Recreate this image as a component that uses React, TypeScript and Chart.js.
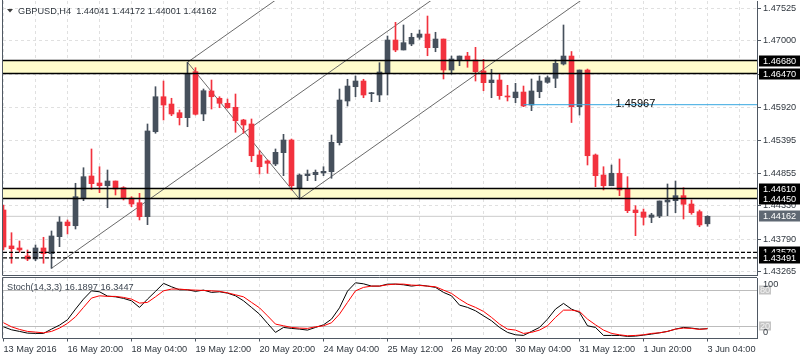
import React, { useEffect, useRef } from "react";
import { Chart, registerables } from "chart.js";

Chart.register(...registerables);

// ---------- data ----------
const symbol = "GBPUSD";
const timeframe = "H4";

const opens = [
  1.44264, 1.43683, 1.4365, 1.43521, 1.43472, 1.4365, 1.43558, 1.43833, 1.4407, 1.4401,
  1.44453, 1.44814, 1.44701, 1.44657, 1.44733, 1.44625, 1.44458, 1.44382, 1.44156, 1.4553,
  1.46096, 1.45978, 1.45838, 1.45757, 1.46501, 1.45817, 1.46189, 1.46071, 1.4599, 1.45925,
  1.4572, 1.45655, 1.45154, 1.45057, 1.45008, 1.45191, 1.45396, 1.44615, 1.44819, 1.44835,
  1.44863, 1.44884, 1.45353, 1.46027, 1.46258, 1.4635, 1.46145, 1.46124, 1.46475, 1.47013,
  1.46852, 1.46949, 1.47057, 1.4711, 1.46889, 1.47029, 1.46528, 1.4669, 1.46754, 1.4669,
  1.46512, 1.46323, 1.46366, 1.46108, 1.4608, 1.46172, 1.45962, 1.46177, 1.46329, 1.46394,
  1.46625, 1.46754, 1.45935, 1.46528, 1.45154, 1.4483, 1.44657, 1.44858, 1.44604, 1.44264,
  1.44232, 1.44146, 1.44167, 1.44394, 1.44415, 1.44496, 1.44361, 1.44237, 1.44041,
];
const highs = [
  1.44345, 1.43897, 1.43763, 1.43618, 1.43699, 1.43823, 1.43925, 1.44156, 1.44103, 1.44696,
  1.44948, 1.45251, 1.44964, 1.44911, 1.44733, 1.44641, 1.44479, 1.44534, 1.45655, 1.46258,
  1.4635, 1.46071, 1.45881, 1.46653, 1.46565, 1.46221, 1.46366, 1.46096, 1.46059, 1.4614,
  1.45731, 1.45736, 1.45223, 1.45073, 1.45251, 1.45488, 1.45412, 1.44846, 1.44911, 1.44911,
  1.44964, 1.45477, 1.46221, 1.46378, 1.46431, 1.46378, 1.46167, 1.46646, 1.47078, 1.47299,
  1.47256, 1.47122, 1.47175, 1.47401, 1.47138, 1.47029, 1.46754, 1.46754, 1.46814, 1.46895,
  1.46701, 1.46539, 1.46459, 1.46281, 1.46313, 1.46269, 1.46383, 1.46431, 1.46431, 1.4669,
  1.47256, 1.46827, 1.46528, 1.46544, 1.4517, 1.44964, 1.44992, 1.45089, 1.44803, 1.44334,
  1.4428, 1.44211, 1.4441, 1.44685, 1.44733, 1.44625, 1.44426, 1.44264, 1.44172,
];
const lows = [
  1.43618, 1.43403, 1.43581, 1.43445, 1.43445, 1.43403, 1.43321, 1.43671, 1.43876, 1.43957,
  1.44415, 1.44599, 1.44544, 1.44301, 1.44507, 1.44426, 1.44318, 1.44103, 1.44027, 1.45505,
  1.4572, 1.45789, 1.45639, 1.45611, 1.458, 1.45708, 1.45897, 1.45918, 1.45909, 1.45521,
  1.45505, 1.45045, 1.44846, 1.44858, 1.44981, 1.44819, 1.44588, 1.44442, 1.44738, 1.44738,
  1.44819, 1.44777, 1.45315, 1.45946, 1.46096, 1.4608, 1.46016, 1.46016, 1.46124, 1.46824,
  1.46852, 1.46921, 1.47025, 1.46759, 1.46824, 1.46383, 1.46459, 1.46598, 1.46572, 1.4635,
  1.46193, 1.4608, 1.46054, 1.46027, 1.46, 1.45935, 1.4587, 1.4608, 1.46313, 1.46242,
  1.46609, 1.45679, 1.458, 1.44992, 1.44641, 1.44588, 1.44657, 1.44496, 1.44221, 1.43849,
  1.44022, 1.44059, 1.4414, 1.44172, 1.44221, 1.44119, 1.44195, 1.43994, 1.44001,
];
const closes = [
  1.43666, 1.43639, 1.43618, 1.43472, 1.4365, 1.43558, 1.43844, 1.4407, 1.4401, 1.44479,
  1.44803, 1.4469, 1.44657, 1.44733, 1.44604, 1.44447, 1.44361, 1.44156, 1.45542, 1.46096,
  1.45962, 1.45817, 1.45757, 1.46475, 1.45812, 1.46193, 1.46096, 1.4599, 1.45918, 1.45708,
  1.45639, 1.45142, 1.44964, 1.45019, 1.45197, 1.45396, 1.44657, 1.4483, 1.44846, 1.44874,
  1.4489, 1.45359, 1.46043, 1.46269, 1.4635, 1.46124, 1.46161, 1.46496, 1.47013, 1.46852,
  1.4697, 1.47057, 1.4711, 1.46889, 1.47029, 1.46528, 1.46706, 1.46754, 1.46678, 1.46501,
  1.46323, 1.46366, 1.46113, 1.46092, 1.46172, 1.45946, 1.46189, 1.4635, 1.46404, 1.46636,
  1.46754, 1.45935, 1.46528, 1.45142, 1.44819, 1.44657, 1.44858, 1.44588, 1.44253, 1.44221,
  1.44146, 1.44184, 1.4441, 1.44426, 1.44496, 1.44357, 1.44221, 1.44022, 1.44162,
];

const stochK = [
  19.3, 14.4, 11.7, 8.9, 8.4, 8.4, 15.5, 22.1, 31.0, 48.6,
  65.1, 78.8, 77.2, 70.1, 68.9, 66.3, 62.3, 51.4, 65.1, 77.9,
  91.1, 85.5, 80.5, 80.5, 77.9, 80.0, 76.2, 77.2, 75.0, 70.6,
  62.3, 51.4, 40.3, 25.0, 10.1, 18.3, 16.7, 15.5, 13.9, 18.3,
  22.6, 32.0, 50.7, 78.3, 92.1, 90.4, 86.6, 86.6, 89.9, 89.9,
  88.8, 86.6, 88.3, 86.6, 84.5, 76.2, 70.6, 55.2, 51.4, 45.8,
  37.5, 29.3, 18.3, 10.1, 6.1, 5.1, 11.7, 18.3, 32.0, 48.6,
  58.0, 48.6, 43.1, 21.0, 18.3, 5.1, 5.1, 5.1, 3.5, 4.0,
  5.6, 7.3, 9.4, 11.7, 15.5, 18.3, 17.2, 15.5, 16.1897,
];
const stochD = [
  26.0, 19.3, 15.0, 11.7, 10.6, 9.4, 11.7, 17.2, 25.0, 35.9,
  51.4, 66.8, 70.6, 69.6, 69.6, 67.9, 65.1, 58.5, 59.7, 68.9,
  78.8, 81.7, 81.7, 80.5, 80.0, 79.4, 78.8, 77.9, 75.5, 72.2,
  68.9, 59.7, 50.7, 37.5, 23.8, 21.0, 18.3, 17.2, 16.7, 19.3,
  21.0, 26.0, 40.3, 59.7, 78.8, 84.5, 86.6, 86.6, 88.8, 89.9,
  89.9, 88.3, 87.7, 86.6, 85.5, 80.0, 74.5, 65.1, 56.9, 51.4,
  44.8, 34.9, 23.8, 15.5, 13.9, 8.4, 10.1, 13.9, 21.0, 34.9,
  46.9, 46.9, 44.8, 32.0, 22.6, 13.9, 8.4, 6.1, 4.5, 5.1,
  6.1, 8.4, 9.4, 11.7, 15.5, 17.2, 16.7, 15.0, 16.3447,
];

const dateLabels = [
  "13 May 2016", "16 May 20:00", "18 May 04:00", "19 May 12:00", "20 May 20:00", "24 May 04:00",
  "25 May 12:00", "26 May 20:00", "30 May 04:00", "31 May 12:00", "1 Jun 20:00", "3 Jun 04:00",
];
const gridBars = [0, 4, 8, 12, 16, 20, 24, 28, 32, 36, 40, 44, 48, 52, 56, 60, 64, 68, 72, 76, 80, 84, 88, 92];
const priceTicks = [1.47525, 1.47, 1.4646, 1.4592, 1.45395, 1.44855, 1.4433, 1.4379, 1.43265];

const zoneTops = [1.4668, 1.4461];
const zoneBottoms = [1.4647, 1.4445];
const dashedLevels = [1.43579, 1.43491];
const blueLevel = 1.45967;
const blueFromBar = 65;
const noteBar = 76.5;

// channel / trend lines as [bar, price] pairs
const channelLines = [
  [[6, 1.43321], [54, 1.47703]],
  [[23, 1.46653], [35, 1.47749]],
  [[37, 1.44442], [73, 1.47729]],
  [[23, 1.46653], [37, 1.44442]],
];

const stochLevels = [20, 80];
const stochName = "Stoch(14,3,3)";

const priceMin = 1.43213;
const priceMax = 1.47644;
const barMin = -0.0625;
const barMax = 94.1875;

// ---------- styles ----------
const FONT = "'Liberation Sans', Arial, sans-serif";
const BULL = "#46505c";
const BEAR = "#f2323e";
const ZONE = "#fffccc";
const GRID = "#e0e0e0";
const FRAME = "#4f5863";
const TEXT = "#30373f";
const BLUE = "#35a7e0";
const LEVEL = "#bcbcbc";
const BID = "#cbcbcb";
const CHANNEL = "#6a6a6a";

export default function App() {
  const topRef = useRef<HTMLCanvasElement>(null);
  const botRef = useRef<HTMLCanvasElement>(null);

  useEffect(() => {
    const n = opens.length;
    const last = n - 1;
    const idx = opens.map((_, i) => i);
    const candleColors = idx.map((i) => (closes[i] >= opens[i] ? BULL : BEAR));
    const hline = (y: number, from = barMin, to = barMax) => [
      { x: from, y },
      { x: to, y },
    ];
    const font = { family: FONT, size: 9.2 };

    const mainOverlay = {
      id: "mainOverlay",
      afterDraw(chart: any) {
        const { ctx, chartArea } = chart;
        const ys = chart.scales.y;
        const xs = chart.scales.x;
        ctx.save();
        // frame
        ctx.strokeStyle = FRAME;
        ctx.lineWidth = 1;
        ctx.beginPath();
        ctx.moveTo(chartArea.left - 0.5, 0);
        ctx.lineTo(chartArea.left - 0.5, chartArea.bottom + 0.5);
        ctx.lineTo(chartArea.right, chartArea.bottom + 0.5);
        ctx.stroke();
        // title
        ctx.fillStyle = "#3a3a3a";
        ctx.beginPath();
        ctx.moveTo(7, 9);
        ctx.lineTo(13, 9);
        ctx.lineTo(10, 12.5);
        ctx.closePath();
        ctx.fill();
        ctx.font = `9.2px ${FONT}`;
        ctx.fillStyle = TEXT;
        ctx.textAlign = "left";
        ctx.textBaseline = "middle";
        const title = `${symbol},${timeframe}  ${opens[last].toFixed(5)} ${highs[last].toFixed(5)} ${lows[last].toFixed(5)} ${closes[last].toFixed(5)}`;
        ctx.fillText(title, 18, 11);
        // note text on blue level
        ctx.font = `11px ${FONT}`;
        ctx.fillStyle = "#000";
        ctx.textBaseline = "alphabetic";
        ctx.fillText(blueLevel.toFixed(5), xs.getPixelForValue(noteBar), ys.getPixelForValue(blueLevel) + 2);
        // right tags
        const tags: [number, string][] = [
          [zoneTops[0], "#000"],
          [zoneBottoms[0], "#000"],
          [zoneTops[1], "#000"],
          [zoneBottoms[1], "#000"],
          [closes[last], "#5f6873"],
          [dashedLevels[0], "#000"],
          [dashedLevels[1], "#000"],
        ];
        ctx.font = `9.2px ${FONT}`;
        ctx.textBaseline = "middle";
        tags.forEach(([v, bg]) => {
          const py = Math.round(ys.getPixelForValue(v));
          ctx.fillStyle = bg;
          ctx.fillRect(chartArea.right + 2, py - 5.5, 41, 11);
          ctx.fillStyle = "#fff";
          ctx.fillText(v.toFixed(5), chartArea.right + 6, py + 0.5);
        });
        ctx.restore();
      },
    };

    const lineDs = (data: any[], color: string, width: number, order: number, dash: number[] = []) => ({
      type: "line",
      data,
      borderColor: color,
      borderWidth: width,
      borderDash: dash,
      pointRadius: 0,
      fill: false,
      order,
      clip: 0,
    });

    const main = new Chart(topRef.current as HTMLCanvasElement, {
      type: "bar",
      data: {
        datasets: [
          ...zoneTops.map((t, k) => ({
            type: "line",
            data: hline(t),
            borderColor: "transparent",
            borderWidth: 1,
            pointRadius: 0,
            fill: { value: zoneBottoms[k] },
            backgroundColor: ZONE,
            order: 20,
            clip: 0,
          })),
          lineDs(hline(closes[last]), BID, 1, 19),
          ...channelLines.map((seg) => lineDs(seg.map(([x, y]) => ({ x, y })), CHANNEL, 1, 18)),
          {
            type: "bar",
            data: idx.map((i) => ({ x: i, y: [lows[i], highs[i]] })),
            backgroundColor: candleColors,
            barThickness: 1,
            grouped: false,
            minBarLength: 1,
            order: 6,
            clip: 0,
          },
          {
            type: "bar",
            data: idx.map((i) => ({ x: i, y: [opens[i], closes[i]] })),
            backgroundColor: candleColors,
            barThickness: 5,
            grouped: false,
            minBarLength: 1,
            order: 5,
            clip: 0,
          },
          ...[...zoneTops, ...zoneBottoms].map((v) => lineDs(hline(v), "#000", 1.5, 2)),
          ...dashedLevels.map((v) => lineDs(hline(v), "#000", 1.3, 2, [4, 2])),
          lineDs(hline(blueLevel, blueFromBar), BLUE, 1, 2),
        ] as any,
      },
      options: {
        responsive: false,
        animation: false,
        devicePixelRatio: 1,
        events: [],
        layout: { padding: { left: 3, top: 1, right: 0, bottom: 1 }, autoPadding: false },
        plugins: { legend: { display: false }, tooltip: { enabled: false } },
        scales: {
          x: {
            type: "linear",
            min: barMin,
            max: barMax,
            offset: false,
            afterBuildTicks: (s: any) => {
              s.ticks = gridBars.map((v) => ({ value: v }));
            },
            afterFit: (s: any) => {
              s.height = 0;
              s.paddingLeft = 0;
              s.paddingRight = 0;
            },
            ticks: { display: false },
            grid: { color: GRID, drawTicks: false, offset: false },
            border: { display: false, dash: [3, 3] },
          },
          y: {
            type: "linear",
            position: "right",
            min: priceMin,
            max: priceMax,
            afterBuildTicks: (s: any) => {
              s.ticks = priceTicks.map((v) => ({ value: v }));
            },
            afterFit: (s: any) => {
              s.width = 43;
              s.paddingTop = 0;
              s.paddingBottom = 0;
            },
            ticks: {
              autoSkip: false,
              padding: 2,
              color: TEXT,
              font,
              callback: (v: any) => Number(v).toFixed(5),
            },
            grid: { color: GRID, drawTicks: true, tickLength: 4, tickColor: FRAME },
            border: { display: true, color: FRAME, width: 1, dash: [3, 3] },
          },
        },
      } as any,
      plugins: [mainOverlay],
    });

    const stochOverlay = {
      id: "stochOverlay",
      afterDraw(chart: any) {
        const { ctx, chartArea } = chart;
        const ys = chart.scales.y;
        ctx.save();
        ctx.strokeStyle = FRAME;
        ctx.lineWidth = 1;
        ctx.beginPath();
        ctx.moveTo(chartArea.left - 0.5, chartArea.bottom);
        ctx.lineTo(chartArea.left - 0.5, chartArea.top - 0.5);
        ctx.lineTo(chartArea.right, chartArea.top - 0.5);
        ctx.stroke();
        ctx.font = `9.2px ${FONT}`;
        ctx.textAlign = "left";
        ctx.textBaseline = "middle";
        ctx.fillStyle = "#3d4651";
        ctx.fillText(`${stochName} ${stochK[last].toFixed(4)} ${stochD[last].toFixed(4)}`, 7, 11.5);
        // level tags
        stochLevels.forEach((lv) => {
          const py = Math.round(ys.getPixelForValue(lv));
          ctx.fillStyle = "#c4c4c4";
          ctx.fillRect(chartArea.right + 2, py - 4.5, 12, 9);
          ctx.fillStyle = "#f4f4f4";
          ctx.fillText(String(lv), chartArea.right + 3, py + 0.5);
        });
        ctx.fillStyle = TEXT;
        ctx.fillText("100", chartArea.right + 6, chartArea.top + 6);
        ctx.fillText("0", chartArea.right + 6, chartArea.bottom - 6);
        ctx.restore();
      },
    };

    const stoch = new Chart(botRef.current as HTMLCanvasElement, {
      type: "line",
      data: {
        datasets: [
          {
            data: idx.map((i) => ({ x: i, y: stochK[i] })),
            borderColor: "#000",
            borderWidth: 1,
            pointRadius: 0,
            order: 2,
            clip: 0,
          },
          {
            data: idx.map((i) => ({ x: i, y: stochD[i] })),
            borderColor: "#ff0000",
            borderWidth: 1,
            pointRadius: 0,
            order: 1,
            clip: 0,
          },
        ],
      },
      options: {
        responsive: false,
        animation: false,
        devicePixelRatio: 1,
        events: [],
        layout: { padding: { left: 3, top: 2, right: 0, bottom: 0 }, autoPadding: false },
        plugins: { legend: { display: false }, tooltip: { enabled: false } },
        scales: {
          x: {
            type: "linear",
            min: barMin,
            max: barMax,
            offset: false,
            afterBuildTicks: (s: any) => {
              s.ticks = gridBars.map((v) => ({ value: v }));
            },
            afterFit: (s: any) => {
              s.height = 21.5;
              s.paddingLeft = 0;
              s.paddingRight = 0;
            },
            ticks: {
              autoSkip: false,
              maxRotation: 0,
              minRotation: 0,
              align: "start",
              padding: 2,
              color: TEXT,
              font,
              callback: (v: any) => (Number(v) % 8 === 0 ? dateLabels[Number(v) / 8] || "" : ""),
            },
            grid: {
              color: GRID,
              drawTicks: true,
              tickLength: 3,
              tickColor: (c: any) => (c.tick && c.tick.value % 8 === 0 ? FRAME : "rgba(0,0,0,0)"),
              offset: false,
            },
            border: { display: true, color: FRAME, dash: [3, 3] },
          },
          y: {
            type: "linear",
            position: "right",
            min: 0,
            max: 100,
            afterBuildTicks: (s: any) => {
              s.ticks = stochLevels.map((v) => ({ value: v }));
            },
            afterFit: (s: any) => {
              s.width = 43;
              s.paddingTop = 0;
              s.paddingBottom = 0;
            },
            ticks: { display: false },
            grid: { color: LEVEL, drawTicks: false },
            border: { display: true, color: FRAME },
          },
        },
      } as any,
      plugins: [stochOverlay],
    });

    return () => {
      main.destroy();
      stoch.destroy();
    };
  }, []);

  return (
    <div style={{ position: "fixed", left: 0, top: 0, width: 800, height: 360, background: "#fff" }}>
      <canvas
        ref={topRef}
        width={800}
        height={276}
        style={{ position: "absolute", left: 0, top: 0, width: 800, height: 276 }}
      />
      <canvas
        ref={botRef}
        width={800}
        height={84}
        style={{ position: "absolute", left: 0, top: 276, width: 800, height: 84 }}
      />
    </div>
  );
}
